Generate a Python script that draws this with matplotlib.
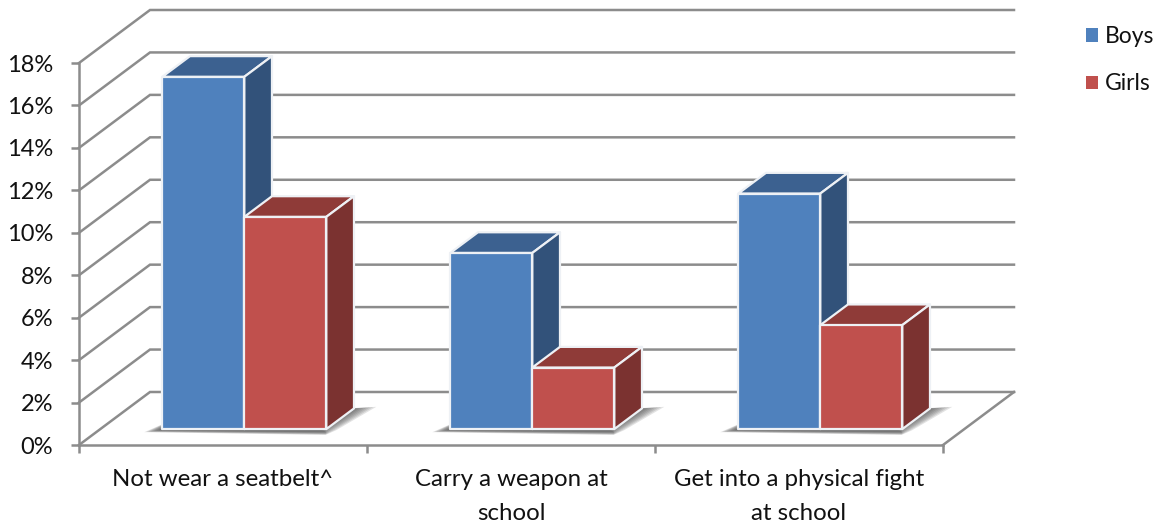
import matplotlib
matplotlib.use("Agg")
import matplotlib.pyplot as plt
from matplotlib.patches import Patch, Polygon

plt.rcParams['font.family'] = ['Lato', 'DejaVu Sans']

categories = ["Not wear a seatbelt^", "Carry a weapon at\nschool", "Get into a physical fight\nat school"]
boys = [16.6, 8.3, 11.1]
girls = [10.0, 2.9, 4.9]
y_ticks = [0, 2, 4, 6, 8, 10, 12, 14, 16, 18]
y_labels = ["0%", "2%", "4%", "6%", "8%", "10%", "12%", "14%", "16%", "18%"]

GRID = "#8c8c8c"
BLUE = ("#4f81bd", "#3c6190", "#32527a")   # front, top, side
RED = ("#c0504d", "#8f3b38", "#7b3230")

# сдвиг задней стенки в единицах данных (косая проекция)
DX = 71 / 288
DY = 53 / 21.22
BAR_W = 82 / 288
D0, D1 = 0.30, 0.69


def proj(x, y, d):
    return (x + d * DX, y + d * DY)


def draw_shadow(ax, x0, x1):
    # мягкая тень на полу - несколько полупрозрачных слоёв
    for k in range(8):
        g = k * 0.007
        pts = [proj(x0 - 0.06 + g, -0.12 + k * 0.012, D0 - 0.01),
               proj(x0, 0, D0 + 0.22),
               proj(x1 + 0.07 - 1.4 * g, 0, D1 + 0.03 - 0.005 * k),
               proj(x1 + 0.03 - g, -0.1, D0 + 0.02),
               proj(x1, -0.25 + k * 0.02, D0 - 0.01)]
        ax.add_patch(Polygon(pts, closed=True, fc="#444444", ec="none", alpha=0.15,
                             clip_on=False, zorder=3))


def draw_bar(ax, x0, x1, h, colors):
    front, top, side = colors
    edge = dict(ec="#eef1f5", lw=1.6, clip_on=False, zorder=4, joinstyle="round")
    ax.add_patch(Polygon([proj(x0, h, D0), proj(x1, h, D0), proj(x1, h, D1), proj(x0, h, D1)],
                         closed=True, fc=top, **edge))
    ax.add_patch(Polygon([proj(x1, 0, D0), proj(x1, 0, D1), proj(x1, h, D1), proj(x1, h, D0)],
                         closed=True, fc=side, **edge))
    ax.add_patch(Polygon([proj(x0, 0, D0), proj(x1, 0, D0), proj(x1, h, D0), proj(x0, h, D0)],
                         closed=True, fc=front, **edge))


fig = plt.figure(figsize=(11.64, 5.25), dpi=100)
ax = fig.add_axes([79 / 1164, 80 / 525, 864 / 1164, 382 / 525])
ax.set_xlim(0, 3)
ax.set_ylim(0, 18)

for s in ("top", "right"):
    ax.spines[s].set_visible(False)
for s in ("left", "bottom"):
    ax.spines[s].set_color(GRID)
    ax.spines[s].set_linewidth(1.8)

# стенки и пол
for v in y_ticks:
    ax.plot([0, DX, 3 + DX], [v, v + DY, v + DY], color=GRID, lw=1.8, clip_on=False,
            zorder=1, solid_joinstyle="miter")
ax.plot([3, 3 + DX], [0, DY], color=GRID, lw=1.8, clip_on=False, zorder=1)

for i in range(len(categories)):
    c = i + 0.5
    draw_shadow(ax, c - BAR_W, c + BAR_W)
    draw_bar(ax, c - BAR_W, c, boys[i], BLUE)
    draw_bar(ax, c, c + BAR_W, girls[i], RED)

ax.set_yticks(y_ticks)
ax.set_yticklabels(y_labels, fontsize=17, color="#111111")
ax.tick_params(axis="y", length=5.5, width=1.8, color=GRID, pad=13)
ax.set_xticks([0, 1, 2, 3])
ax.set_xticklabels([])
ax.tick_params(axis="x", which="major", length=6, width=1.8, color=GRID)
ax.set_xticks([0.5, 1.5, 2.5], minor=True)
ax.set_xticklabels(categories, minor=True, fontsize=17.3, color="#111111", linespacing=1.72)
ax.tick_params(axis="x", which="minor", length=0, pad=17.5)

handles = [Patch(fc=BLUE[0], label="Boys"), Patch(fc=RED[0], label="Girls")]
leg = ax.legend(handles=handles, loc="upper left", bbox_to_anchor=(1086 / 1164, 1 - 26 / 525),
                bbox_transform=fig.transFigure, frameon=False, fontsize=16.5, handlelength=0.52,
                handleheight=0.52, handletextpad=0.3, labelspacing=1.15, borderpad=0, borderaxespad=0)
for t in leg.get_texts():
    t.set_color("#111111")

fig.savefig("out.png", dpi=100)
